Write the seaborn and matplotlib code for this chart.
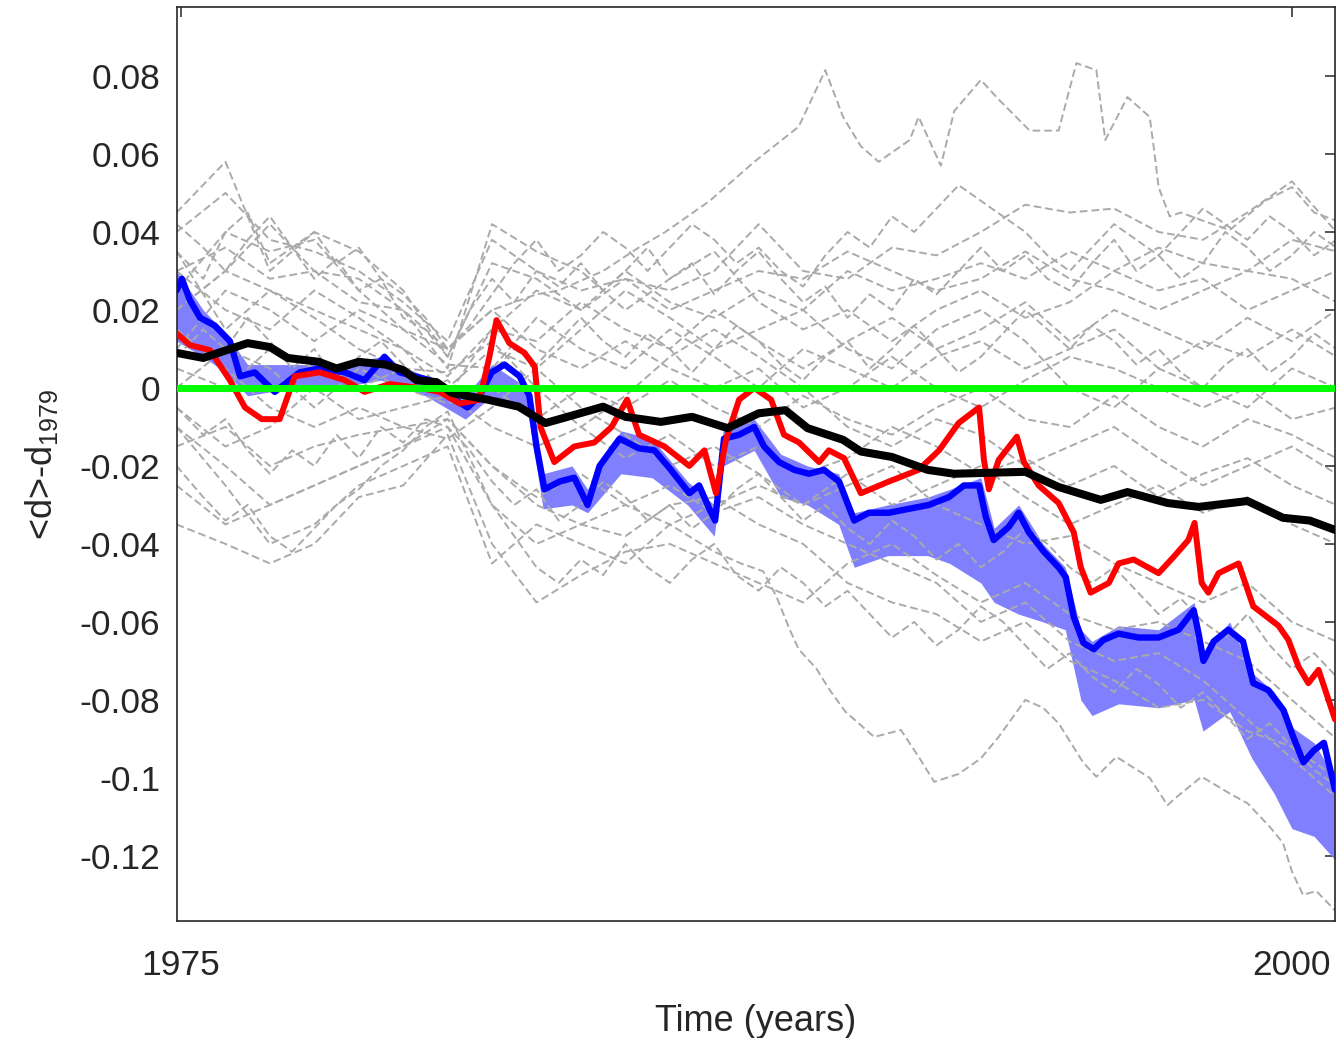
import numpy as np
import pandas as pd
import matplotlib
matplotlib.use('Agg')
import matplotlib.pyplot as plt
import seaborn as sns

# ---- values ----
# thick black line (ensemble mean)
black_years = [1974.9, 1975.5, 1976.5, 1977.0, 1977.4, 1978.1, 1978.5, 1979.0, 1979.6, 1980.0,
               1980.3, 1980.75, 1981.1, 1981.9, 1982.6, 1983.2, 1983.7, 1984.5, 1985.0, 1985.8,
               1986.5, 1987.3, 1988.0, 1988.6, 1989.1, 1989.9, 1990.3, 1991.0, 1991.8, 1992.4,
               1994.0, 1994.75, 1995.7, 1996.3, 1997.2, 1997.9, 1999.0, 1999.8, 2000.4, 2000.97]
black_vals = [0.009, 0.0077, 0.0115, 0.0105, 0.0077, 0.0067, 0.005, 0.0067, 0.006, 0.0046,
              0.002, 0.0015, -0.0013, -0.003, -0.0048, -0.009, -0.0074, -0.0048, -0.0074, -0.0087,
              -0.0074, -0.0103, -0.0065, -0.0057, -0.0103, -0.0133, -0.0163, -0.0177, -0.021, -0.022,
              -0.0215, -0.0254, -0.0287, -0.0267, -0.0295, -0.0305, -0.029, -0.0333, -0.034, -0.0364]

# red line
red_years = [1974.9, 1975.2, 1975.65, 1976.1, 1976.44, 1976.82, 1977.22, 1977.56, 1978.12, 1978.69,
             1979.13, 1979.7, 1980.37, 1980.82, 1981.27, 1981.72, 1981.94, 1982.1, 1982.39, 1982.73,
             1982.96, 1983.09, 1983.4, 1983.85, 1984.3, 1984.69, 1985.04, 1985.31, 1985.88, 1986.44,
             1986.78, 1987.04, 1987.27, 1987.56, 1987.9, 1988.28, 1988.57, 1988.91, 1989.36, 1989.58,
             1989.92, 1990.3, 1990.93, 1991.6, 1992.06, 1992.5, 1992.96, 1993.07, 1993.18, 1993.4,
             1993.81, 1993.97, 1994.3, 1994.75, 1995.09, 1995.25, 1995.47, 1995.88, 1996.1, 1996.44,
             1997.0, 1997.34, 1997.67, 1997.81, 1997.97, 1998.12, 1998.35, 1998.8, 1999.13, 1999.7,
             1999.92, 2000.15, 2000.37, 2000.6, 2000.97]
red_vals = [0.014, 0.011, 0.0097, 0.002, -0.005, -0.008, -0.008, 0.003, 0.004, 0.002,
            -0.001, 0.001, 0.0, -0.001, -0.004, -0.003, 0.008, 0.0174, 0.0115, 0.009,
            0.0055, -0.01, -0.019, -0.015, -0.014, -0.010, -0.003, -0.012, -0.015, -0.020,
            -0.016, -0.027, -0.013, -0.003, 0.0, -0.003, -0.012, -0.014, -0.019, -0.016,
            -0.018, -0.027, -0.024, -0.021, -0.016, -0.009, -0.005, -0.0185, -0.026, -0.0185,
            -0.0125, -0.019, -0.025, -0.0295, -0.037, -0.046, -0.0525, -0.050, -0.045, -0.044,
            -0.0475, -0.0433, -0.039, -0.0346, -0.050, -0.0525, -0.0475, -0.045, -0.056, -0.061,
            -0.0646, -0.0715, -0.0757, -0.0723, -0.085]

# blue line
blue_years = [1974.9, 1975.02, 1975.2, 1975.43, 1975.76, 1976.1, 1976.33, 1976.66, 1977.11, 1977.67,
              1978.12, 1978.69, 1979.13, 1979.58, 1979.92, 1980.6, 1981.16, 1981.45, 1981.72, 1981.99,
              1982.28, 1982.62, 1982.84, 1983.0, 1983.18, 1983.52, 1983.85, 1984.15, 1984.42, 1984.87,
              1985.31, 1985.65, 1985.99, 1986.44, 1986.66, 1986.89, 1987.02, 1987.22, 1987.56, 1987.9,
              1988.12, 1988.46, 1988.8, 1989.13, 1989.47, 1989.81, 1990.15, 1990.48, 1990.93, 1991.38,
              1991.83, 1992.28, 1992.62, 1992.96, 1993.11, 1993.29, 1993.63, 1993.85, 1994.08, 1994.42,
              1994.75, 1994.91, 1995.09, 1995.31, 1995.54, 1995.76, 1996.1, 1996.55, 1997.0, 1997.45,
              1997.79, 1997.9, 1998.01, 1998.24, 1998.57, 1998.9, 1999.13, 1999.47, 1999.81, 2000.03,
              2000.26, 2000.49, 2000.72, 2000.97]
blue_vals = [0.025, 0.028, 0.0225, 0.018, 0.016, 0.012, 0.003, 0.004, -0.001, 0.004,
             0.005, 0.004, 0.002, 0.008, 0.004, 0.002, -0.003, -0.005, -0.002, 0.004,
             0.006, 0.003, -0.002, -0.015, -0.026, -0.024, -0.023, -0.030, -0.020, -0.013,
             -0.0155, -0.016, -0.0205, -0.027, -0.025, -0.031, -0.034, -0.013, -0.012, -0.010,
             -0.015, -0.019, -0.021, -0.022, -0.021, -0.024, -0.034, -0.032, -0.032, -0.031,
             -0.030, -0.028, -0.025, -0.025, -0.033, -0.039, -0.0356, -0.032, -0.037, -0.042,
             -0.046, -0.0485, -0.0587, -0.0654, -0.067, -0.0646, -0.063, -0.064, -0.064, -0.062,
             -0.057, -0.063, -0.070, -0.065, -0.062, -0.065, -0.0757, -0.0775, -0.0826, -0.0895,
             -0.096, -0.093, -0.091, -0.103]

# light blue ensemble band
band_years = [1974.9, 1975.5, 1976.0, 1976.5, 1977.5, 1978.5, 1979.5, 1980.5, 1981.4, 1982.0,
              1982.8, 1983.15, 1983.8, 1984.15, 1984.9, 1985.6, 1986.4, 1987.0, 1987.2, 1987.9,
              1988.5, 1989.1, 1989.8, 1990.15, 1990.9, 1991.8, 1992.3, 1993.0, 1993.3, 1993.85,
              1994.4, 1994.9, 1995.25, 1995.5, 1996.1, 1997.0, 1997.8, 1998.0, 1998.6, 1999.1,
              1999.6, 2000.0, 2000.5, 2000.97]
band_top = [0.030, 0.020, 0.014, 0.006, 0.006, 0.006, 0.008, 0.003, -0.002, 0.006,
            0.0, -0.022, -0.020, -0.026, -0.011, -0.013, -0.024, -0.030, -0.011, -0.008,
            -0.017, -0.020, -0.022, -0.032, -0.030, -0.028, -0.026, -0.023, -0.036, -0.030,
            -0.040, -0.046, -0.062, -0.065, -0.061, -0.062, -0.055, -0.068, -0.060, -0.073,
            -0.078, -0.087, -0.091, -0.100]
band_bottom = [0.012, 0.008, 0.004, -0.002, 0.000, 0.000, 0.002, -0.002, -0.008, -0.002,
               -0.006, -0.031, -0.030, -0.032, -0.022, -0.023, -0.030, -0.038, -0.020, -0.016,
               -0.028, -0.030, -0.035, -0.046, -0.043, -0.043, -0.045, -0.050, -0.055, -0.058,
               -0.060, -0.062, -0.080, -0.084, -0.081, -0.082, -0.080, -0.088, -0.083, -0.095,
               -0.104, -0.113, -0.115, -0.121]

# gray dashed runs, the two outliers traced more finely
gray_top_years = [1974.9, 1976, 1977, 1978, 1979, 1980, 1981, 1982, 1983, 1983.5,
                  1984.5, 1985.3, 1985.9, 1986.9, 1987.9, 1988.9, 1989.5, 1989.9, 1990.3, 1990.7,
                  1991.4, 1991.6, 1992.1, 1992.4, 1993.0, 1993.4, 1994.1, 1994.75, 1995.15, 1995.6,
                  1995.8, 1996.3, 1996.8, 1996.9, 1997.0, 1997.25, 1997.5, 1997.97, 1998.6, 1999.4,
                  2000.0, 2000.5, 2000.97]
gray_top_vals = [0.030, 0.036, 0.028, 0.030, 0.022, 0.020, 0.010, 0.020, 0.024, 0.025,
                 0.030, 0.036, 0.040, 0.048, 0.058, 0.067, 0.0815, 0.0695, 0.062, 0.058,
                 0.0636, 0.0695, 0.057, 0.071, 0.079, 0.074, 0.066, 0.066, 0.0833, 0.0815,
                 0.0636, 0.0746, 0.0695, 0.061, 0.0515, 0.044, 0.045, 0.043, 0.0405, 0.048,
                 0.0515, 0.045, 0.043]

gray_low_years = [1974.9, 1976, 1977, 1978, 1979, 1980, 1981, 1982, 1983, 1984,
                  1985, 1986, 1987, 1987.6, 1988.1, 1988.4, 1988.7, 1988.9, 1989.3, 1989.6,
                  1989.95, 1990.6, 1991.2, 1991.6, 1991.95, 1992.5, 1993.0, 1993.4, 1994.0, 1994.4,
                  1994.75, 1995.3, 1995.6, 1996.05, 1996.8, 1997.2, 1997.5, 1997.97, 1998.6, 1999.0,
                  1999.5, 1999.8, 2000.0, 2000.25, 2000.55, 2000.97]
gray_low_vals = [-0.010, -0.020, -0.030, -0.025, -0.020, -0.015, -0.008, -0.020, -0.030, -0.035,
                 -0.030, -0.035, -0.042, -0.045, -0.047, -0.0535, -0.062, -0.067, -0.072, -0.0775,
                 -0.083, -0.0895, -0.0877, -0.0946, -0.101, -0.099, -0.095, -0.0895, -0.080, -0.082,
                 -0.086, -0.096, -0.0997, -0.0946, -0.100, -0.107, -0.104, -0.0997, -0.104, -0.1065,
                 -0.1125, -0.1167, -0.124, -0.130, -0.129, -0.134]

# yearly gray runs
gray_years = [1974.9] + list(range(1976, 2002))
gray_a = [0.040, 0.050, 0.038, 0.035, 0.030, 0.022, 0.012, 0.038, 0.030, 0.025, 0.028, 0.025, 0.030, 0.042,
          0.030, 0.028, 0.036, 0.034, 0.040, 0.047, 0.045, 0.046, 0.040, 0.038, 0.045, 0.053, 0.040]
gray_b = [0.045, 0.058, 0.030, 0.040, 0.035, 0.025, 0.008, 0.032, 0.028, 0.020, 0.030, 0.022, 0.018, 0.025,
          0.020, 0.030, 0.025, 0.028, 0.032, 0.028, 0.035, 0.030, 0.036, 0.032, 0.030, 0.038, 0.035]
gray_c = [0.020, 0.030, 0.042, 0.030, 0.028, 0.020, 0.005, 0.042, 0.035, 0.030, 0.020, 0.028, 0.035, 0.022,
          0.015, 0.020, 0.012, 0.020, 0.025, 0.018, 0.022, 0.030, 0.025, 0.028, 0.020, 0.025, 0.030]
gray_d = [0.030, 0.020, 0.015, 0.025, 0.018, 0.010, 0.003, 0.015, 0.012, 0.022, 0.015, 0.010, 0.020, 0.012,
          0.005, 0.012, 0.018, 0.010, 0.015, 0.022, 0.012, 0.020, 0.015, 0.010, 0.018, 0.012, 0.020]
gray_e = [0.010, 0.025, 0.020, 0.012, 0.020, 0.015, 0.006, 0.005, 0.018, 0.010, 0.005, 0.015, 0.008, 0.000,
          0.010, 0.005, 0.000, 0.008, 0.012, 0.005, 0.010, 0.015, 0.005, 0.012, 0.008, 0.015, 0.008]
gray_f = [0.035, 0.015, 0.025, 0.018, 0.010, 0.005, 0.000, 0.010, 0.005, 0.015, 0.025, 0.018, 0.010, 0.015,
          0.020, 0.010, 0.005, 0.015, 0.020, 0.012, 0.000, -0.005, 0.005, 0.000, -0.005, 0.005, 0.000]
gray_g = [0.000, 0.010, 0.005, -0.005, 0.005, 0.000, -0.004, 0.000, -0.008, 0.000, -0.005, 0.002, -0.005, -0.010,
          -0.002, -0.008, -0.012, -0.005, 0.000, -0.008, -0.010, -0.002, -0.010, -0.015, -0.008, -0.012, -0.018]
gray_h = [-0.005, -0.015, -0.010, 0.000, -0.008, -0.005, -0.002, -0.010, -0.015, -0.010, -0.018, -0.012, -0.020, -0.015,
          -0.022, -0.018, -0.010, -0.015, -0.022, -0.018, -0.025, -0.020, -0.028, -0.022, -0.018, -0.025, -0.030]
gray_i = [-0.015, -0.010, -0.020, -0.015, -0.012, -0.010, -0.008, -0.020, -0.028, -0.022, -0.030, -0.025, -0.032, -0.028,
          -0.035, -0.040, -0.045, -0.050, -0.060, -0.055, -0.065, -0.070, -0.068, -0.075, -0.085, -0.095, -0.105]
gray_j = [-0.025, -0.035, -0.030, -0.025, -0.020, -0.015, -0.010, -0.030, -0.040, -0.035, -0.038, -0.030, -0.028, -0.035,
          -0.040, -0.050, -0.055, -0.058, -0.065, -0.060, -0.070, -0.075, -0.082, -0.080, -0.088, -0.092, -0.100]
gray_k = [-0.035, -0.040, -0.045, -0.040, -0.028, -0.025, -0.012, -0.040, -0.055, -0.048, -0.042, -0.040, -0.045, -0.050,
          -0.055, -0.045, -0.040, -0.048, -0.055, -0.050, -0.058, -0.062, -0.060, -0.065, -0.070, -0.080, -0.090]
gray_l = [0.015, 0.005, -0.005, -0.010, -0.005, -0.010, -0.013, -0.005, 0.005, -0.005, -0.012, -0.020, -0.015, -0.022,
          -0.030, -0.025, -0.020, -0.030, -0.035, -0.040, -0.038, -0.045, -0.050, -0.055, -0.050, -0.060, -0.065]
gray_m = [0.025, 0.040, 0.035, 0.038, 0.025, 0.015, 0.010, 0.020, 0.010, 0.005, 0.012, 0.005, 0.000, 0.005,
          -0.005, 0.000, 0.008, 0.000, -0.005, 0.002, 0.008, 0.005, 0.000, -0.005, 0.000, -0.008, -0.005]
gray_n = [-0.010, -0.025, -0.040, -0.035, -0.025, -0.020, -0.015, -0.045, -0.035, -0.040, -0.045, -0.035, -0.030, -0.025,
          -0.030, -0.022, -0.030, -0.025, -0.020, -0.028, -0.035, -0.030, -0.025, -0.032, -0.028, -0.035, -0.040]
gray_o = [0.005, 0.000, 0.010, 0.005, 0.000, 0.005, 0.004, 0.012, 0.000, -0.010, -0.002, 0.008, 0.015, 0.008,
          0.000, -0.010, -0.015, -0.008, -0.012, -0.020, -0.015, -0.010, -0.018, -0.025, -0.020, -0.015, -0.022]
gray_p = [0.020, 0.030, 0.025, 0.020, 0.015, 0.010, -0.002, 0.015, 0.025, 0.020, 0.028, 0.020, 0.025, 0.030,
          0.028, 0.035, 0.030, 0.025, 0.028, 0.035, 0.028, 0.025, 0.020, 0.025, 0.030, 0.028, 0.022]

# half-yearly gray runs (1974.9, 1975.5, 1976.0 ... 2001.0)
gray_half_years = [1974.9] + list(np.arange(1975.5, 2001.01, 0.5))
gray_q = [0.035, 0.028, 0.040, 0.045, 0.032, 0.036, 0.028, 0.033, 0.025, 0.028,
          0.018, 0.015, 0.008, 0.020, 0.028, 0.022, 0.030, 0.026, 0.032, 0.025,
          0.030, 0.036, 0.028, 0.032, 0.024, 0.030, 0.035, 0.028, 0.022, 0.026,
          0.018, 0.024, 0.020, 0.028, 0.024, 0.030, 0.036, 0.030, 0.034, 0.028,
          0.025, 0.032, 0.038, 0.030, 0.034, 0.028, 0.032, 0.040, 0.036, 0.030,
          0.034, 0.040, 0.036]
gray_r = [0.008, 0.015, 0.010, 0.018, 0.012, 0.005, 0.010, 0.002, 0.008, 0.012,
          0.006, 0.000, 0.002, -0.004, 0.004, 0.010, 0.006, 0.012, 0.018, 0.012,
          0.008, 0.014, 0.010, 0.004, 0.010, 0.016, 0.012, 0.006, 0.002, 0.008,
          0.012, 0.005, 0.010, 0.016, 0.010, 0.004, 0.008, 0.014, 0.020, 0.015,
          0.010, 0.016, 0.012, 0.006, 0.010, 0.004, 0.000, 0.006, 0.010, 0.004,
          0.008, 0.014, 0.010]
gray_s = [-0.005, -0.012, -0.008, -0.016, -0.022, -0.016, -0.020, -0.012, -0.018, -0.010,
          -0.014, -0.008, -0.010, -0.016, -0.024, -0.030, -0.026, -0.034, -0.030, -0.024,
          -0.028, -0.034, -0.030, -0.036, -0.032, -0.026, -0.022, -0.028, -0.034, -0.030,
          -0.036, -0.040, -0.034, -0.038, -0.044, -0.040, -0.046, -0.042, -0.036, -0.040,
          -0.046, -0.050, -0.046, -0.052, -0.058, -0.054, -0.060, -0.064, -0.058, -0.066,
          -0.072, -0.068, -0.074]
gray_t = [0.042, 0.036, 0.030, 0.038, 0.044, 0.036, 0.040, 0.032, 0.036, 0.028,
          0.024, 0.018, 0.010, 0.016, 0.024, 0.032, 0.038, 0.030, 0.034, 0.040,
          0.036, 0.030, 0.036, 0.042, 0.038, 0.032, 0.036, 0.030, 0.026, 0.034,
          0.040, 0.036, 0.044, 0.040, 0.046, 0.052, 0.048, 0.044, 0.040, 0.034,
          0.030, 0.036, 0.042, 0.038, 0.034, 0.040, 0.046, 0.042, 0.038, 0.044,
          0.040, 0.034, 0.038]
gray_u = [-0.020, -0.028, -0.034, -0.030, -0.038, -0.042, -0.036, -0.030, -0.026, -0.020,
          -0.016, -0.010, -0.006, -0.018, -0.030, -0.038, -0.046, -0.050, -0.044, -0.048,
          -0.040, -0.046, -0.050, -0.044, -0.040, -0.048, -0.052, -0.046, -0.050, -0.056,
          -0.052, -0.058, -0.064, -0.060, -0.066, -0.062, -0.056, -0.060, -0.066, -0.072,
          -0.068, -0.074, -0.078, -0.072, -0.076, -0.082, -0.078, -0.084, -0.090, -0.086,
          -0.092, -0.098, -0.102]

xtick_vals = [1975, 2000]
xtick_labels = ['1975', '2000']
ytick_vals = [0.08, 0.06, 0.04, 0.02, 0, -0.02, -0.04, -0.06, -0.08, -0.1, -0.12]
ytick_labels = ['0.08', '0.06', '0.04', '0.02', '0', '-0.02', '-0.04', '-0.06', '-0.08', '-0.1', '-0.12']

# ---- style ----
sns.set_theme(style='white')
plt.rcParams['font.family'] = ['Liberation Sans', 'DejaVu Sans']
plt.rcParams['mathtext.fontset'] = 'custom'
plt.rcParams['mathtext.rm'] = 'Liberation Sans'
plt.rcParams['mathtext.default'] = 'regular'
ink = '#262626'

fig = plt.figure(figsize=(13.36, 10.38), dpi=100)
ax = fig.add_axes([177 / 1336, 1 - 921 / 1038, 1158 / 1336, 914 / 1038])


def line(x, y, **kw):
    sns.lineplot(x=x, y=y, ax=ax, estimator=None, sort=False, **kw)


ax.fill_between(band_years, band_bottom, band_top, color='#8080ff', lw=0, zorder=1)

dash = (0, (4, 2))
gray_runs = [gray_a, gray_b, gray_c, gray_d, gray_e, gray_f, gray_g, gray_h,
             gray_i, gray_j, gray_k, gray_l, gray_m, gray_n, gray_o, gray_p]
for run in gray_runs:
    line(gray_years, run, color='#aaaaaa', lw=1.4, linestyle=dash, zorder=2)
for run in [gray_q, gray_r, gray_s, gray_t, gray_u]:
    line(gray_half_years, run, color='#aaaaaa', lw=1.4, linestyle=dash, zorder=2)
line(gray_top_years, gray_top_vals, color='#aaaaaa', lw=1.4, linestyle=dash, zorder=2)
line(gray_low_years, gray_low_vals, color='#aaaaaa', lw=1.4, linestyle=dash, zorder=2)

line(blue_years, blue_vals, color='#0000ff', lw=4.6, zorder=3)
line(red_years, red_vals, color='#ff0000', lw=4.3, zorder=4)
line(black_years, black_vals, color='black', lw=5.8, zorder=5)
ax.axhline(0, color='#00ff00', lw=5.0, zorder=6)

ax.set_xlim(1974.91, 2000.97)
ax.set_ylim(-0.1367, 0.0977)
ax.set_xticks(xtick_vals)
ax.set_xticklabels(xtick_labels)
ax.set_yticks(ytick_vals)
ax.set_yticklabels(ytick_labels)
ax.tick_params(direction='in', length=7, width=1.1, top=True, right=True,
               labelsize=25.5, colors=ink)
ax.tick_params(axis='x', pad=20)
ax.tick_params(axis='y', pad=12)
for s in ax.spines.values():
    s.set_color(ink)
    s.set_linewidth(1.2)

ax.set_xlabel('Time (years)', fontsize=26, color=ink, labelpad=16)
ax.set_ylabel('<d>-d$_{1979}$', fontsize=26, color=ink, labelpad=14)

fig.savefig('out.png', dpi=100)
